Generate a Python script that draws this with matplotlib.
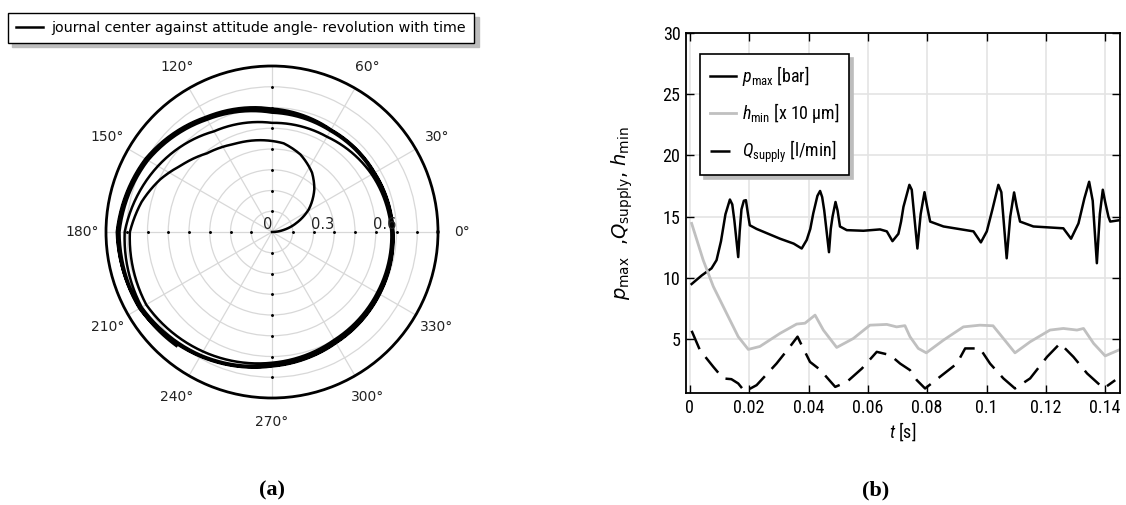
import numpy as np
import matplotlib
matplotlib.use("Agg")
import matplotlib.pyplot as plt
from matplotlib import font_manager

# ---------------- data ----------------
# (a) journal centre orbit: attitude angle (deg, unwrapped) and eccentricity
orbit_theta_deg = [0, 10, 20.6, 31.6, 45.3, 56, 69.9, 82.5, 97.2, 113.6, 129.6, 144.3, 154.7, 167,
                   180, 210, 240, 270, 300, 330, 360,
                   390, 420, 450, 480, 510, 540, 570, 600, 630, 660, 690, 720,
                   750, 780, 810, 840, 870, 900, 930, 960, 990, 1020, 1050, 1080,
                   1110, 1140, 1170, 1200, 1230, 1260, 1290, 1320, 1350, 1380, 1410, 1440,
                   1470, 1500, 1530, 1560, 1590, 1620, 1650, 1670]
orbit_r = [0, 0.057, 0.128, 0.208, 0.290, 0.345, 0.398, 0.431, 0.446, 0.462, 0.492, 0.545, 0.595, 0.645,
           0.685, 0.700, 0.665, 0.630, 0.600, 0.585, 0.575,
           0.555, 0.530, 0.526, 0.560, 0.635, 0.710, 0.725, 0.685, 0.640, 0.610, 0.595, 0.580,
           0.565, 0.562, 0.575, 0.625, 0.690, 0.735, 0.733, 0.690, 0.645, 0.615, 0.598, 0.583,
           0.570, 0.567, 0.587, 0.635, 0.700, 0.745, 0.738, 0.693, 0.648, 0.618, 0.600, 0.585,
           0.572, 0.570, 0.595, 0.640, 0.705, 0.748, 0.735, 0.717]
r_grid = [0.1, 0.2, 0.3, 0.4, 0.5, 0.6, 0.7]
r_labels = {0.0: "0", 0.3: "0.3", 0.6: "0.6"}
theta_ticks = [0, 30, 60, 90, 120, 150, 180, 210, 240, 270, 300, 330]
theta_labels = ["0°", "30°", "60°", "", "120°", "150°", "180°", "210°", "240°", "270°", "300°", "330°"]

# (b) time series
t_p = [0.0006, 0.004, 0.0073, 0.009, 0.0105, 0.0120, 0.0135, 0.0143, 0.015, 0.0163, 0.0168, 0.0174,
       0.0182, 0.0189, 0.0196, 0.0202, 0.0225,
       0.0304, 0.0350, 0.0377, 0.0394, 0.0406, 0.0416, 0.0430, 0.0439, 0.0446, 0.0453, 0.0469,
       0.0475, 0.0481, 0.0491, 0.0498, 0.0506, 0.0529,
       0.0585, 0.0641, 0.0664, 0.0683, 0.0703, 0.0712, 0.072, 0.0740, 0.0748, 0.0767, 0.0778,
       0.0791, 0.0800, 0.081, 0.0855,
       0.0956, 0.0981, 0.1001, 0.1020, 0.104, 0.1050, 0.1068, 0.1080, 0.1093, 0.1102, 0.1113,
       0.1158, 0.1259, 0.1285, 0.131, 0.1330, 0.1346, 0.1358, 0.1372, 0.1382, 0.1392, 0.1400,
       0.1411, 0.1417, 0.1445]
p_max = [9.5, 10.2, 10.78, 11.45, 13.0, 15.2, 16.4, 16.0, 14.7, 11.7, 13.8, 15.6,
         16.3, 16.35, 15.2, 14.3, 14.0,
         13.2, 12.8, 12.4, 13.1, 14.0, 15.27, 16.7, 17.1, 16.6, 15.5, 12.1,
         14.0, 15.0, 16.2, 15.5, 14.2, 13.9,
         13.85, 13.96, 13.8, 13.0, 13.6, 14.6, 15.8, 17.6, 17.2, 12.4, 15.2,
         17.0, 15.8, 14.6, 14.2,
         13.8, 12.9, 13.8, 15.6, 17.6, 17.0, 11.6, 15.0, 16.98, 15.8, 14.6,
         14.2, 14.05, 13.2, 14.45, 16.5, 17.85, 16.3, 11.2, 15.2, 17.2, 16.2,
         15.0, 14.6, 14.7]

t_h = [0.0006, 0.0045, 0.0079, 0.0124, 0.0163, 0.0197, 0.0236, 0.0304, 0.036, 0.0388, 0.0422,
       0.045, 0.0495, 0.0551, 0.0607, 0.0664, 0.0697, 0.0725, 0.0742, 0.077, 0.0797, 0.0855,
       0.0922, 0.0978, 0.1022, 0.1057, 0.1096, 0.1147, 0.1214, 0.1259, 0.1305, 0.1327, 0.1361,
       0.1400, 0.1445]
h_min = [14.45, 11.45, 9.3, 7.1, 5.2, 4.16, 4.4, 5.47, 6.23, 6.3, 6.96,
         5.74, 4.32, 5.05, 6.14, 6.2, 6.0, 6.1, 5.2, 4.24, 3.88, 4.92,
         6.0, 6.14, 6.09, 5.05, 3.88, 4.78, 5.74, 5.87, 5.74, 5.87, 4.65,
         3.63, 4.1]

t_q = [0.0006, 0.0034, 0.0079, 0.0112, 0.014, 0.0163, 0.0185, 0.0225, 0.0292, 0.0337, 0.0363,
       0.0377, 0.0405, 0.0439, 0.049, 0.0529, 0.058, 0.063, 0.0675, 0.0709, 0.0742, 0.0765,
       0.0793, 0.0843, 0.09, 0.0928, 0.0978, 0.1012, 0.1057, 0.1096, 0.1147, 0.1204, 0.1248,
       0.1293, 0.1339, 0.1395, 0.1434]
q_supply = [5.68, 4.1, 2.74, 1.79, 1.73, 1.38, 0.72, 1.24, 3.0, 4.37, 5.2,
            4.5, 3.14, 2.5, 1.1, 1.5, 2.6, 3.96, 3.7, 3.0, 2.47, 1.65,
            0.97, 1.92, 3.0, 4.24, 4.24, 3.0, 1.79, 0.97, 1.79, 3.55, 4.65,
            3.55, 2.2, 0.97, 1.65]

x_ticks = [0, 0.02, 0.04, 0.06, 0.08, 0.1, 0.12, 0.14]
x_ticklabels = ["0", "0.02", "0.04", "0.06", "0.08", "0.1", "0.12", "0.14"]
y_ticks = [5, 10, 15, 20, 25, 30]

# ---------------- fonts ----------------
ttf = font_manager.fontManager.ttflist
names = {f.name for f in ttf}
narrow_kw = {"family": "DejaVu Sans"}
suffix = ""
if "Liberation Sans Narrow" in names:
    narrow_kw = {"family": "Liberation Sans Narrow"}
elif "Roboto Condensed" in names:
    narrow_kw = {"family": "Roboto Condensed"}
elif any(f.name == "DejaVu Sans" and f.stretch == "condensed" for f in ttf):
    narrow_kw = {"family": "DejaVu Sans", "stretch": "condensed"}
    suffix = ":stretch=condensed"
elif "Roboto" in names:
    narrow_kw = {"family": "Roboto"}
serif = "Liberation Serif" if "Liberation Serif" in names else "DejaVu Serif"
plt.rcParams["font.family"] = ["DejaVu Sans"]
plt.rcParams["mathtext.fontset"] = "custom"
plt.rcParams["mathtext.rm"] = narrow_kw["family"] + suffix
plt.rcParams["mathtext.it"] = narrow_kw["family"] + ":italic" + suffix
plt.rcParams["mathtext.bf"] = narrow_kw["family"] + ":bold" + suffix
plt.rcParams["mathtext.sf"] = narrow_kw["family"] + suffix

W, H = 1126, 505
fig = plt.figure(figsize=(W / 100, H / 100), dpi=100)

def fx(px):
    return px / W

def fy(py):
    return 1 - py / H

# ---------------- (a) polar ----------------
cx, cy, R = 272, 232, 166
axp = fig.add_axes([fx(cx - R), fy(cy + R), 2 * R / W, 2 * R / H], projection="polar")
line, = axp.plot(np.deg2rad(orbit_theta_deg), orbit_r, color="black", lw=1.8, solid_joinstyle="round")
line.get_path()._interpolation_steps = 12
axp.set_ylim(0, 0.8)
axp.set_yticks(r_grid)
axp.set_yticklabels([""] * len(r_grid))
axp.set_thetagrids(theta_ticks, theta_labels, fontsize=10)
axp.tick_params(axis="x", pad=7, colors="#222222")
axp.grid(True, color="#d8d8d8", lw=0.9)
axp.spines["polar"].set_linewidth(2)
for rv, lab in r_labels.items():
    axp.text(0, rv, lab, ha="right", va="bottom", fontsize=10.5, color="#222222")
# small tick dots on the principal axes
for ang in (0, 90, 180, 270):
    axp.plot([np.deg2rad(ang)] * len(r_grid), r_grid, ls="none", marker="o",
             ms=1.1, color="black")

leg_a = fig.legend([line], ["journal center against attitude angle- revolution with time"],
                   loc="upper left", bbox_to_anchor=(fx(8), fy(13)), fontsize=10.25,
                   fancybox=False, shadow={"color": "#bdbdbd", "alpha": 1.0, "ox": 3, "oy": -3},
                   edgecolor="black", framealpha=1, handlelength=1.9, borderpad=0.57,
                   handletextpad=0.6, borderaxespad=0)
leg_a.get_frame().set_linewidth(1.0)

# ---------------- (b) time series ----------------
x0, x1, y0, y1 = 686, 1120, 33, 393
axb = fig.add_axes([fx(x0), fy(y1), (x1 - x0) / W, (y1 - y0) / H])
lp, = axb.plot(t_p, p_max, color="black", lw=1.8, label=r"$p_{\mathrm{max}}$ [bar]")
lh, = axb.plot(t_h, h_min, color="#c0c0c0", lw=2.0, label=r"$h_{\mathrm{min}}$ [x 10 μm]")
lq, = axb.plot(t_q, q_supply, color="black", lw=1.8, dashes=(8, 4),
               label=r"$Q_{\mathrm{supply}}$ [l/min]")
axb.set_xlim(-0.0013, 0.145)
axb.set_ylim(0.6, 30)
axb.set_xticks(x_ticks)
axb.set_xticklabels(x_ticklabels, fontsize=13, **narrow_kw)
axb.set_yticks(y_ticks)
axb.set_yticklabels([str(v) for v in y_ticks], fontsize=13, **narrow_kw)
axb.tick_params(direction="in", length=6, width=1.0, top=True, right=True, pad=4)
axb.grid(True, color="#e4e4e4", lw=1.2)
for s in axb.spines.values():
    s.set_linewidth(1.3)
axb.set_xlabel(r"$t$ [s]", fontsize=13, labelpad=3, **narrow_kw)
axb.set_ylabel(r"$p_{\mathrm{max}}$  ,$Q_{\mathrm{supply}}$, $h_{\mathrm{min}}$", fontsize=14,
               labelpad=20, math_fontfamily="dejavusans")

prop_b = dict(narrow_kw)
prop_b["size"] = 13
leg_b = axb.legend(handles=[lp, lh, lq], loc="upper left", bbox_to_anchor=(fx(700), fy(54)),
                   bbox_transform=fig.transFigure, prop=prop_b,
                   fancybox=False, shadow={"color": "#bdbdbd", "alpha": 1.0, "ox": 3, "oy": -3},
                   edgecolor="black", framealpha=1, handlelength=1.45, labelspacing=0.75,
                   borderpad=0.55, handletextpad=0.3, borderaxespad=0)
leg_b.get_frame().set_linewidth(1.2)

# ---------------- captions ----------------
fig.text(fx(272), fy(490), "(a)", ha="center", va="center", fontsize=16,
         fontweight="bold", fontfamily=serif)
fig.text(fx(876), fy(490), "(b)", ha="center", va="center", fontsize=16,
         fontweight="bold", fontfamily=serif)

fig.savefig("out.png", dpi=100)
